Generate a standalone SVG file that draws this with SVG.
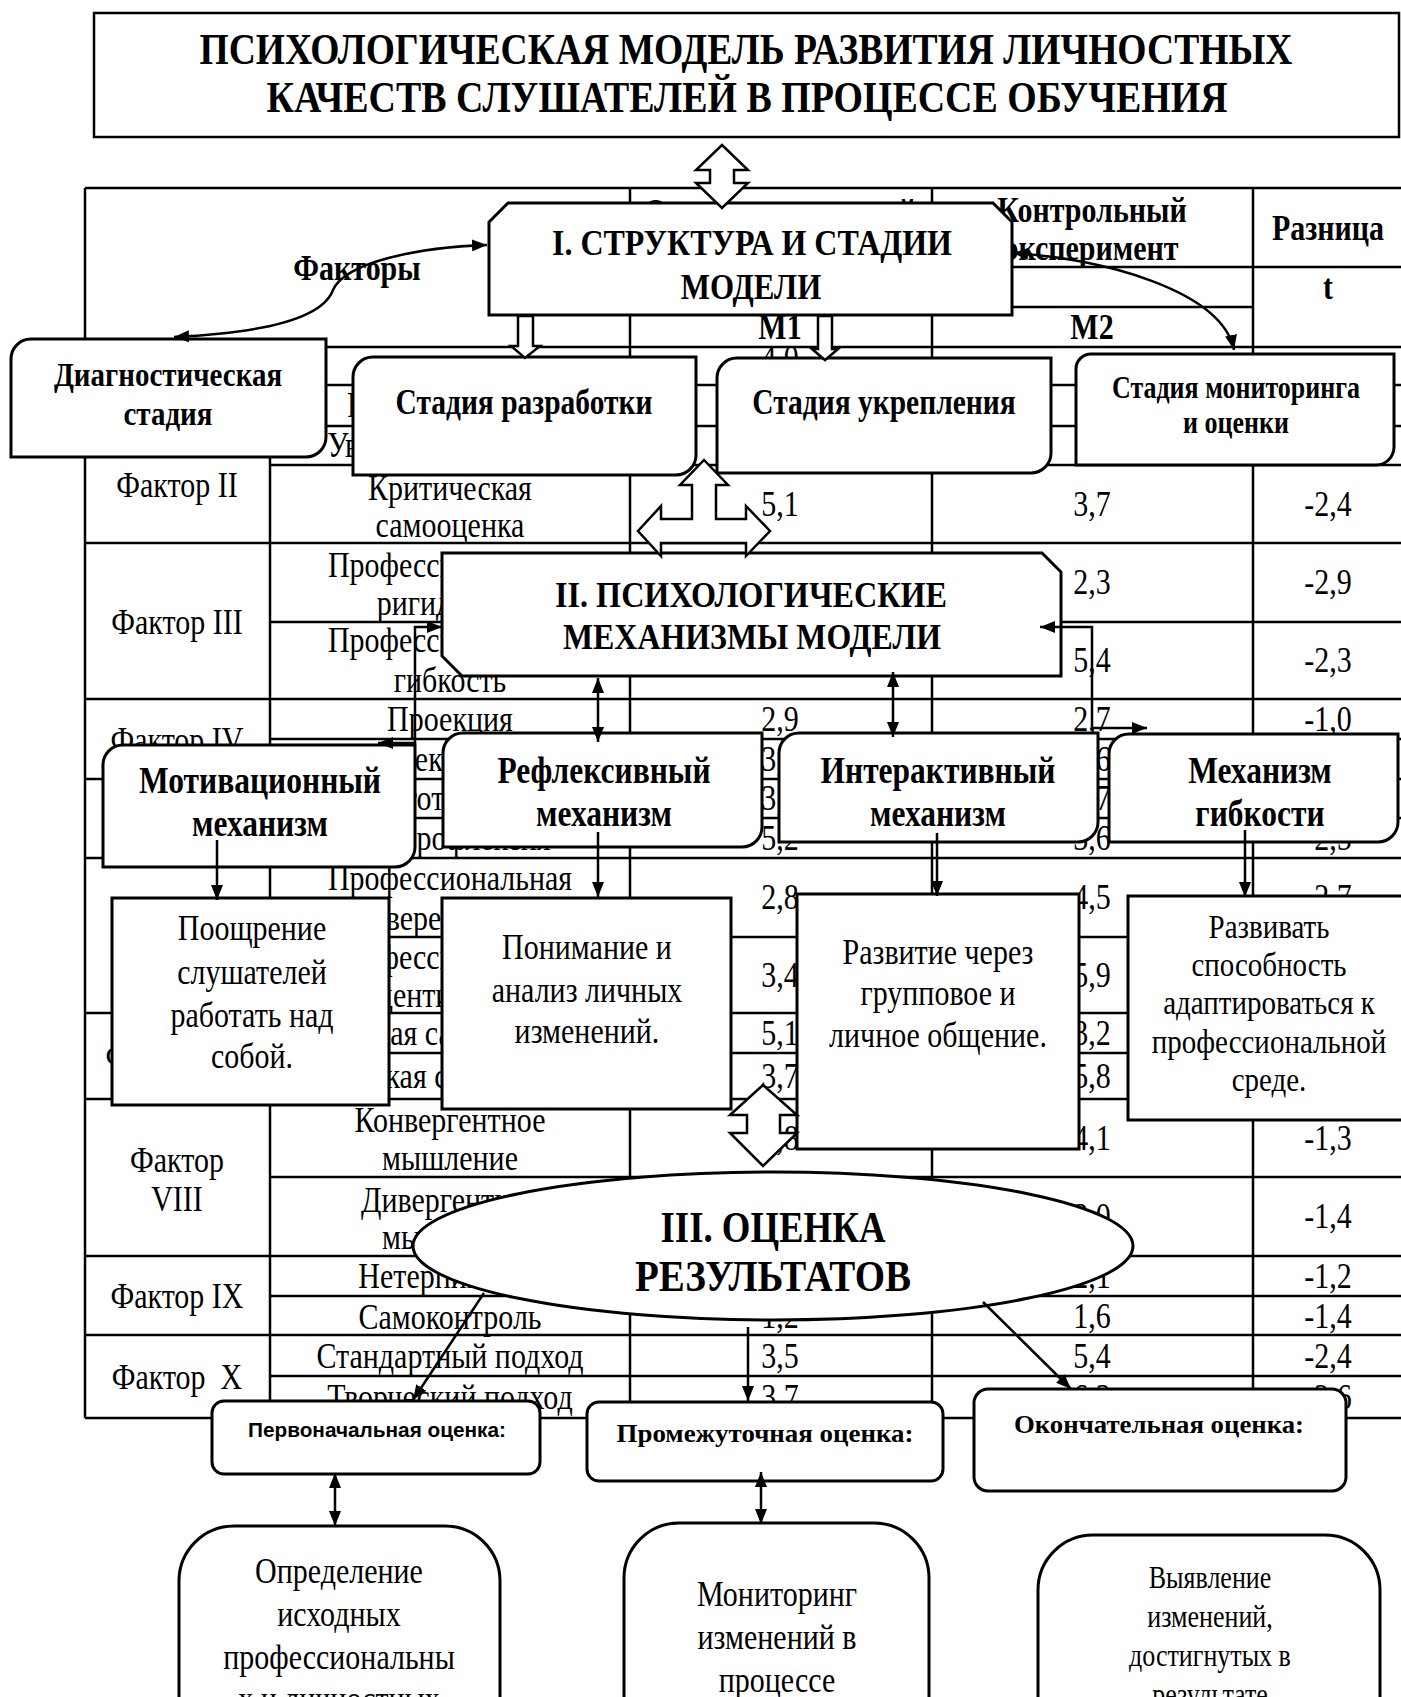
<svg xmlns="http://www.w3.org/2000/svg" width="1401" height="1697" viewBox="0 0 1401 1697" font-size="30">
<style>
.tl{fill:none;stroke:#000;stroke-width:2.5}
.t{font-family:"Liberation Serif","Times New Roman",serif;text-anchor:middle;fill:#000;transform-box:fill-box;transform-origin:50% 50%;transform:scaleY(1.18)}
.s{font-family:"Liberation Sans","Open Sans",sans-serif;font-weight:bold;text-anchor:middle;fill:#000;transform-box:fill-box;transform-origin:50% 50%;transform:scaleY(1.1)}
.b{font-weight:bold}
.box{fill:#fff;stroke:#000;stroke-width:3}
.con{fill:none;stroke:#000;stroke-width:2.5}
.ha{fill:#fff;stroke:#000;stroke-width:2.5;stroke-linejoin:miter}
</style>
<defs>
<marker id="ah" viewBox="0 0 10 10" refX="10" refY="5" markerWidth="15" markerHeight="12" markerUnits="userSpaceOnUse" preserveAspectRatio="none" orient="auto-start-reverse"><path d="M0,0 L10,5 L0,10 Z" fill="#000"/></marker>
</defs>
<rect width="1401" height="1697" fill="#fff"/>

<g id="title">
<rect x="94" y="13" width="1305" height="124" fill="#fff" stroke="#000" stroke-width="2.5"/>
<text class="t b" x="746" y="62" font-size="38" textLength="1093" lengthAdjust="spacingAndGlyphs">ПСИХОЛОГИЧЕСКАЯ МОДЕЛЬ РАЗВИТИЯ ЛИЧНОСТНЫХ</text>
<text class="t b" x="747" y="110" font-size="38" textLength="961" lengthAdjust="spacingAndGlyphs">КАЧЕСТВ СЛУШАТЕЛЕЙ В ПРОЦЕССЕ ОБУЧЕНИЯ</text>
</g>

<g id="table">
<path class="tl" d="M85 188V1418 M270 347V1418 M630 188V1418 M932 188V1418 M1253 188V1418 M85 188H1404 M630 267H1404 M630 307H1253 M85 347H1404 M270 385H1404 M85 426H1404 M270 465H1404 M85 543H1404 M270 622H1404 M85 699H1404 M270 739H1404 M85 779H1404 M270 818H1404 M85 858H1404 M270 937H1404 M85 1013H1404 M270 1053H1404 M85 1099H1404 M270 1177H1404 M85 1256H1404 M270 1296H1404 M85 1335H1404 M270 1376H1404 M85 1418H1404"/>
<text class="t b" x="357" y="278">Факторы</text>
<text class="t b" x="780" y="222">Опытно-поисковый</text>
<text class="t b" x="1092" y="220">Контрольный</text>
<text class="t b" x="1092" y="258">эксперимент</text>
<text class="t b" x="1328" y="238">Разница</text>
<text class="t b" x="1328" y="297">t</text>
<text class="t b" x="780" y="337">М1</text>
<text class="t b" x="1092" y="337">М2</text>
<text class="t" x="780" y="368">4,0</text>
<text class="t" x="450" y="415">Рефлексивность</text>
<text class="t" x="450" y="455">Уверенность в себе</text>
<text class="t" x="177" y="495">Фактор II</text>
<text class="t" x="450" y="498">Критическая</text>
<text class="t" x="450" y="535">самооценка</text>
<text class="t" x="780" y="514">5,1</text>
<text class="t" x="1092" y="514">3,7</text>
<text class="t" x="1328" y="514">-2,4</text>
<text class="t" x="177" y="632">Фактор III</text>
<text class="t" x="450" y="575">Профессиональная</text>
<text class="t" x="450" y="613">ригидность</text>
<text class="t" x="1092" y="592">2,3</text>
<text class="t" x="1328" y="592">-2,9</text>
<text class="t" x="450" y="650">Профессиональная</text>
<text class="t" x="450" y="690">гибкость</text>
<text class="t" x="1092" y="670">5,4</text>
<text class="t" x="1328" y="670">-2,3</text>
<text class="t" x="177" y="750">Фактор IV</text>
<text class="t" x="450" y="729">Проекция</text>
<text class="t" x="780" y="729">2,9</text>
<text class="t" x="1092" y="729">2,7</text>
<text class="t" x="1328" y="729">-1,0</text>
<text class="t" x="411" y="769">Интроекция</text>
<text class="t" x="780" y="769">3,5</text>
<text class="t" x="1092" y="769">4,6</text>
<text class="t" x="438" y="808">Эготизм</text>
<text class="t" x="780" y="808">3,8</text>
<text class="t" x="1092" y="808">4,7</text>
<text class="t" x="462" y="848">Ретрофлексия</text>
<text class="t" x="780" y="848">5,2</text>
<text class="t" x="1092" y="848">3,6</text>
<text class="t" x="1328" y="848">-2,5</text>
<text class="t" x="450" y="888">Профессиональная</text>
<text class="t" x="450" y="928">уверенность</text>
<text class="t" x="780" y="907">2,8</text>
<text class="t" x="1092" y="907">4,5</text>
<text class="t" x="1328" y="907">-2,7</text>
<text class="t" x="450" y="967">Профессиональная</text>
<text class="t" x="450" y="1005">идентичность</text>
<text class="t" x="780" y="985">3,4</text>
<text class="t" x="1092" y="985">5,9</text>
<text class="t" x="177" y="1066">Фактор VII</text>
<text class="t" x="450" y="1043">Низкая самооценка</text>
<text class="t" x="780" y="1043">5,1</text>
<text class="t" x="1092" y="1043">3,2</text>
<text class="t" x="450" y="1086">Высокая самооценка</text>
<text class="t" x="780" y="1086">3,7</text>
<text class="t" x="1092" y="1086">5,8</text>
<text class="t" x="177" y="1170">Фактор</text>
<text class="t" x="177" y="1209">VIII</text>
<text class="t" x="450" y="1130">Конвергентное</text>
<text class="t" x="450" y="1168">мышление</text>
<text class="t" x="780" y="1148">2,8</text>
<text class="t" x="1092" y="1148">4,1</text>
<text class="t" x="1328" y="1148">-1,3</text>
<text class="t" x="450" y="1210">Дивергентное</text>
<text class="t" x="450" y="1247">мышление</text>
<text class="t" x="1092" y="1226">3,0</text>
<text class="t" x="1328" y="1226">-1,4</text>
<text class="t" x="177" y="1306">Фактор IX</text>
<text class="t" x="450" y="1286">Нетерпимость</text>
<text class="t" x="1092" y="1286">2,1</text>
<text class="t" x="1328" y="1286">-1,2</text>
<text class="t" x="450" y="1327">Самоконтроль</text>
<text class="t" x="780" y="1326">1,2</text>
<text class="t" x="1092" y="1326">1,6</text>
<text class="t" x="1328" y="1326">-1,4</text>
<text class="t" x="177" y="1387" xml:space="preserve">Фактор  X</text>
<text class="t" x="450" y="1366">Стандартный подход</text>
<text class="t" x="780" y="1366">3,5</text>
<text class="t" x="1092" y="1366">5,4</text>
<text class="t" x="1328" y="1366">-2,4</text>
<text class="t" x="450" y="1407">Творческий подход</text>
<text class="t" x="780" y="1407">3,7</text>
<text class="t" x="1092" y="1407">6,3</text>
<text class="t" x="1328" y="1407">-2,6</text>
</g>

<g id="node-structure">
<path class="box" d="M508 203 L993 203 L1012 222 L1012 315 L489 315 L489 222 Z"/>
<text class="t b" x="752" y="253" font-size="31" textLength="400" lengthAdjust="spacingAndGlyphs">I. СТРУКТУРА И СТАДИИ</text>
<text class="t b" x="751" y="297" font-size="31">МОДЕЛИ</text>
</g>
<g id="node-diag">
<path class="box" d="M11 359 A20 20 0 0 1 31 339 L326 339 L326 437 A20 20 0 0 1 306 457 L11 457 Z"/>
<text class="t b" x="168" y="384" font-size="29">Диагностическая</text>
<text class="t b" x="168" y="423" font-size="29">стадия</text>
</g>
<g id="node-razr">
<path class="box" d="M353 377 A20 20 0 0 1 373 357 L696 357 L696 455 A20 20 0 0 1 676 475 L353 475 Z"/>
<text class="t b" x="524" y="412" font-size="29.5">Стадия разработки</text>
</g>
<g id="node-ukr">
<path class="box" d="M717 378 A20 20 0 0 1 737 358 L1051 358 L1051 453 A20 20 0 0 1 1031 473 L717 473 Z"/>
<text class="t b" x="884" y="412" font-size="29.5">Стадия укрепления</text>
</g>
<g id="node-mon">
<path class="box" d="M1076 369 A15 15 0 0 1 1091 354 L1394 354 L1394 447 A18 18 0 0 1 1376 465 L1076 465 Z"/>
<text class="t b" x="1236" y="396" font-size="26">Стадия мониторинга</text>
<text class="t b" x="1236" y="431" font-size="26">и оценки</text>
</g>

<g id="node-mech">
<path class="box" d="M442 553 L1042 553 L1061 572 L1061 676 L462 676 L442 656 Z"/>
<text class="t b" x="751" y="605" font-size="31" textLength="392" lengthAdjust="spacingAndGlyphs">II. ПСИХОЛОГИЧЕСКИЕ</text>
<text class="t b" x="752" y="647" font-size="31" textLength="378" lengthAdjust="spacingAndGlyphs">МЕХАНИЗМЫ МОДЕЛИ</text>
</g>
<g id="node-motiv">
<path class="box" d="M103 765 A20 20 0 0 1 123 745 L415 745 L415 847 A20 20 0 0 1 395 867 L103 867 Z"/>
<text class="t b" x="260" y="791" font-size="31.5">Мотивационный</text>
<text class="t b" x="260" y="834" font-size="31.5">механизм</text>
</g>
<g id="node-refl">
<path class="box" d="M443 753 A20 20 0 0 1 463 733 L762 733 L762 827 A20 20 0 0 1 742 847 L443 847 Z"/>
<text class="t b" x="604" y="781" font-size="31.5">Рефлексивный</text>
<text class="t b" x="604" y="824" font-size="31.5">механизм</text>
</g>
<g id="node-inter">
<path class="box" d="M779 753 A20 20 0 0 1 799 733 L1098 733 L1098 822 A20 20 0 0 1 1078 842 L779 842 Z"/>
<text class="t b" x="938" y="781" font-size="31.5">Интерактивный</text>
<text class="t b" x="938" y="824" font-size="31.5">механизм</text>
</g>
<g id="node-flex">
<path class="box" d="M1109 754 A20 20 0 0 1 1129 734 L1398 734 L1398 822 A20 20 0 0 1 1378 842 L1109 842 Z"/>
<text class="t b" x="1260" y="781" font-size="31.5">Механизм</text>
<text class="t b" x="1260" y="824" font-size="31.5">гибкости</text>
</g>

<g id="node-encour">
<rect class="box" x="112" y="898" width="277" height="207"/>
<text class="t" x="252" y="938">Поощрение</text>
<text class="t" x="252" y="982">слушателей</text>
<text class="t" x="252" y="1025">работать над</text>
<text class="t" x="252" y="1066">собой.</text>
</g>
<g id="node-underst">
<rect class="box" x="442" y="898" width="289" height="211"/>
<text class="t" x="587" y="957">Понимание и</text>
<text class="t" x="587" y="1000">анализ личных</text>
<text class="t" x="587" y="1041">изменений.</text>
</g>
<g id="node-develop">
<rect class="box" x="797" y="894" width="282" height="255"/>
<text class="t" x="938" y="962">Развитие через</text>
<text class="t" x="938" y="1003">групповое и</text>
<text class="t" x="938" y="1045">личное общение.</text>
</g>
<g id="node-adapt">
<rect class="box" x="1128" y="896" width="280" height="224"/>
<text class="t" x="1269" y="936" font-size="29">Развивать</text>
<text class="t" x="1269" y="974" font-size="29">способность</text>
<text class="t" x="1269" y="1012" font-size="29">адаптироваться к</text>
<text class="t" x="1269" y="1051" font-size="29">профессиональной</text>
<text class="t" x="1269" y="1089" font-size="29">среде.</text>
</g>

<g id="node-eval">
<ellipse class="box" cx="773" cy="1246" rx="360" ry="74"/>
<text class="t b" x="773" y="1240" font-size="37" textLength="225" lengthAdjust="spacingAndGlyphs">III. ОЦЕНКА</text>
<text class="t b" x="773" y="1289" font-size="37" textLength="276" lengthAdjust="spacingAndGlyphs">РЕЗУЛЬТАТОВ</text>
</g>

<g id="node-initial">
<rect class="box" x="212" y="1401" width="328" height="73" rx="12"/>
<text class="s" x="377" y="1436" font-size="18" textLength="258" lengthAdjust="spacingAndGlyphs">Первоначальная оценка:</text>
</g>
<g id="node-interim">
<rect class="box" x="587" y="1402" width="356" height="79" rx="12"/>
<text class="t b" x="765" y="1441" font-size="22" textLength="297" lengthAdjust="spacingAndGlyphs">Промежуточная оценка:</text>
</g>
<g id="node-final">
<rect class="box" x="974" y="1389" width="372" height="102" rx="14"/>
<text class="t b" x="1159" y="1432" font-size="22" textLength="290" lengthAdjust="spacingAndGlyphs">Окончательная оценка:</text>
</g>

<g id="node-define">
<rect class="box" x="179" y="1526" width="321" height="260" rx="55"/>
<text class="t" x="339" y="1581">Определение</text>
<text class="t" x="339" y="1624">исходных</text>
<text class="t" x="339" y="1667">профессиональны</text>
<text class="t" x="339" y="1709">х и личностных</text>
</g>
<g id="node-monitor">
<rect class="box" x="624" y="1523" width="305" height="260" rx="55"/>
<text class="t" x="777" y="1604">Мониторинг</text>
<text class="t" x="777" y="1647">изменений в</text>
<text class="t" x="777" y="1690">процессе</text>
</g>
<g id="node-reveal">
<rect class="box" x="1038" y="1535" width="342" height="260" rx="55"/>
<text class="t" x="1210" y="1586" font-size="26">Выявление</text>
<text class="t" x="1210" y="1625" font-size="26">изменений,</text>
<text class="t" x="1210" y="1664" font-size="26">достигнутых в</text>
<text class="t" x="1210" y="1703" font-size="26">результате</text>
</g>

<g id="connectors">
<path class="ha" d="M722,145 L748,170 L734,170 L734,183 L748,183 L722,208 L696,183 L710,183 L710,170 L696,170 Z"/>
<path class="ha" d="M518,316 L533,316 L533,346 L540,346 L525,358 L511,346 L518,346 Z"/>
<path class="ha" d="M818,316 L832,316 L832,349 L838,349 L825,360 L812,349 L818,349 Z"/>
<path class="ha" d="M704,460 L728,485 L716,485 L716,519 L746,519 L746,506 L770,531 L746,556 L746,543 L661,543 L661,556 L638,531 L661,506 L661,519 L692,519 L692,485 L680,485 Z"/>
<path class="ha" d="M763,1085 L797,1115 L780,1115 L780,1133 L797,1133 L763,1166 L730,1133 L747,1133 L747,1115 L730,1115 Z"/>
<path class="con" d="M487 245 C420 247 345 262 333 290 C322 320 260 333 174 337" marker-start="url(#ah)" marker-end="url(#ah)"/>
<path class="con" d="M1013 253 C1100 258 1222 290 1234 350" marker-start="url(#ah)" marker-end="url(#ah)"/>
<path class="con" d="M442 627 L415 627 L415 743 L378 743" marker-start="url(#ah)" marker-end="url(#ah)"/>
<path class="con" d="M1040 627 L1092 627 L1092 728 L1147 728" marker-start="url(#ah)" marker-end="url(#ah)"/>
<path class="con" d="M598 678 L598 742" marker-start="url(#ah)" marker-end="url(#ah)"/>
<path class="con" d="M893 672 L893 737" marker-start="url(#ah)" marker-end="url(#ah)"/>
<path class="con" d="M217 840 L217 900" marker-end="url(#ah)"/>
<path class="con" d="M598 832 L598 897" marker-end="url(#ah)"/>
<path class="con" d="M937 833 L937 896" marker-end="url(#ah)"/>
<path class="con" d="M1245 830 L1245 897" marker-end="url(#ah)"/>
<path class="con" d="M484 1293 L413 1400" marker-end="url(#ah)"/>
<path class="con" d="M748 1327 L748 1401" marker-end="url(#ah)"/>
<path class="con" d="M983 1302 L1071 1389" marker-end="url(#ah)"/>
<path class="con" d="M335 1473 L335 1526" marker-start="url(#ah)" marker-end="url(#ah)"/>
<path class="con" d="M761 1472 L761 1524" marker-start="url(#ah)" marker-end="url(#ah)"/>
</g>
</svg>
